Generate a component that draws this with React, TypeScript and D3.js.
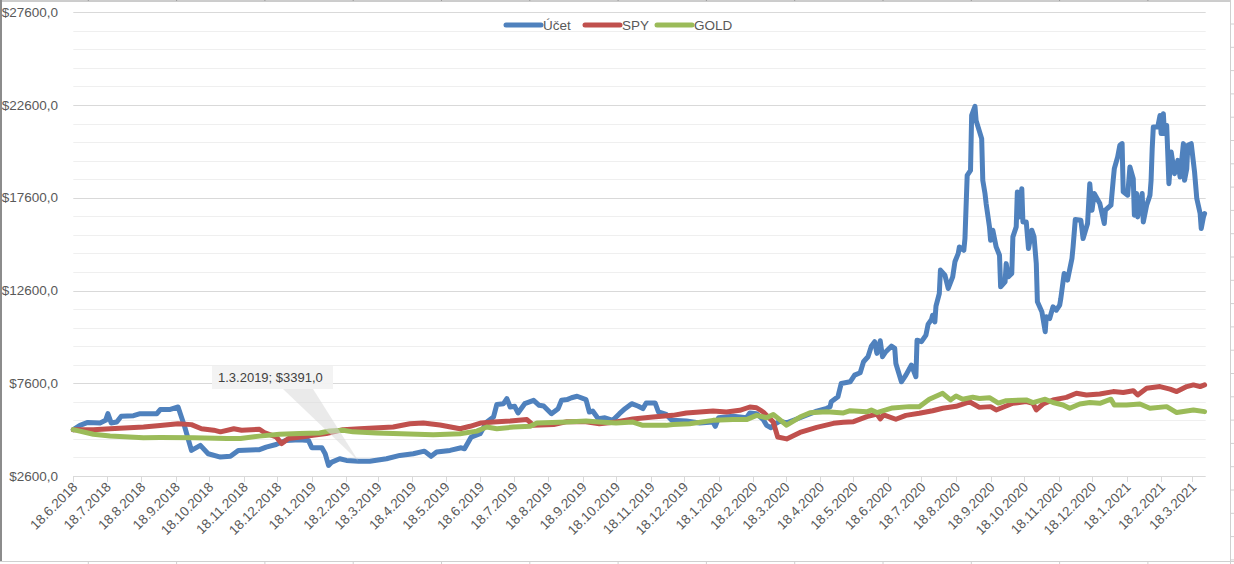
import * as d3 from 'd3';
import React, { useEffect, useRef } from 'react';

const startDate = '18.6.2018';
const endDate = '30.3.2021';

const seriesNames = ['Účet', 'SPY', 'GOLD'];
const seriesColors = ['#4f81bd', '#c0504d', '#9bbb59'];

// [days since 18.6.2018, value in $]
const ucet: [number, number][] = [
	[0, 5100], [6, 5330], [13, 5490], [24, 5460], [29, 5600], [31, 5960], [34, 5460], [39, 5510], [43, 5820],
	[54, 5850], [60, 5960], [75, 5960], [78, 6180], [87, 6190], [94, 6320], [100, 5240], [106, 3980], [114, 4250],
	[121, 3800], [132, 3620], [141, 3660], [148, 3980], [167, 4020], [173, 4160], [182, 4300], [187, 4430],
	[191, 4520], [203, 4560], [211, 4520], [214, 4120], [223, 4120], [226, 3800], [229, 3170], [232, 3350],
	[239, 3530], [245, 3440], [256, 3391], [266, 3400], [281, 3530], [293, 3710], [305, 3800], [315, 3940],
	[321, 3660], [326, 3890], [338, 3980], [348, 4120], [351, 4070], [357, 4700], [365, 4880], [371, 5510],
	[377, 5780], [380, 6460], [386, 6500], [389, 6770], [392, 6320], [396, 6360], [399, 6000], [405, 6500],
	[413, 6680], [418, 6410], [422, 6370], [429, 5960], [435, 6230], [438, 6680], [443, 6720], [447, 6820],
	[452, 6900], [460, 6720], [463, 6050], [466, 6100], [471, 5690], [477, 5740], [484, 5600], [490, 5960],
	[495, 6230], [501, 6500], [507, 6360], [511, 6230], [514, 6540], [522, 6540], [525, 6050], [532, 5920],
	[537, 5600], [550, 5560], [562, 5460], [574, 5510], [576, 5280], [579, 5740], [592, 5820], [604, 5740],
	[607, 6000], [613, 5960], [619, 5640], [622, 5330], [626, 5200], [629, 5380], [634, 5560], [640, 5460],
	[652, 5740], [667, 6100], [676, 6250], [679, 6335], [680, 6600], [686, 6870], [689, 7590], [697, 7680],
	[701, 8040], [706, 8170], [709, 8760], [713, 9030], [716, 9600], [719, 9840], [721, 9210], [724, 9890],
	[726, 9030], [729, 9300], [734, 9600], [737, 9480], [738, 8670], [743, 7680], [747, 8040], [752, 8580],
	[756, 7950], [757, 9920], [761, 9840], [765, 10200], [767, 10790], [770, 11040], [771, 11270], [773, 10910],
	[774, 11760], [777, 12440], [778, 13700], [782, 13430], [785, 12710], [789, 13340], [791, 14150], [794, 14600],
	[795, 14950], [799, 14770], [800, 15400], [802, 18810], [805, 19080], [806, 22040], [809, 22530], [810, 21770],
	[815, 20790], [816, 18540], [818, 17820], [819, 17290], [822, 16030], [823, 15310], [825, 15850], [828, 14950],
	[831, 14500], [832, 12800], [836, 13070], [837, 14050], [839, 13340], [842, 13520], [843, 15490], [846, 16030],
	[847, 17910], [849, 16570], [851, 18090], [852, 16300], [855, 16300], [857, 14860], [860, 15850], [862, 15490],
	[864, 14050], [865, 11990], [869, 11460], [872, 10380], [873, 11180], [876, 11090], [879, 11720], [882, 11540],
	[885, 11810], [886, 12170], [889, 13520], [892, 13160], [896, 14330], [897, 14950], [899, 16430], [904, 16390],
	[906, 15400], [910, 16210], [912, 18360], [914, 16930], [916, 17830], [921, 17290], [925, 16210], [926, 16930],
	[931, 17200], [933, 18540], [934, 19170], [937, 19800], [939, 20430], [941, 20520], [942, 17920], [946, 17740],
	[948, 19260], [951, 18630], [952, 16660], [954, 17830], [955, 16570], [959, 17830], [960, 16300], [963, 17200],
	[966, 17740], [967, 18540], [968, 20250], [969, 21420], [973, 21420], [975, 22040], [976, 21060], [978, 22130],
	[979, 21060], [981, 21500], [983, 18360], [985, 20070], [988, 18900], [991, 19620], [993, 18720], [996, 20520],
	[997, 18540], [999, 19170], [1000, 20430], [1003, 20520], [1006, 18990], [1008, 17560], [1011, 16750],
	[1012, 15940], [1014, 16570], [1015, 16750],
];

const spy: [number, number][] = [
	[0, 5100], [18, 5100], [33, 5150], [63, 5240], [78, 5320], [94, 5420], [106, 5370], [115, 5150], [126, 5070],
	[132, 4980], [144, 5150], [151, 5070], [167, 5120], [172, 4920], [182, 4710], [187, 4350], [193, 4620],
	[206, 4710], [215, 4800], [227, 4890], [242, 5100], [257, 5150], [287, 5240], [302, 5420], [314, 5460],
	[329, 5350], [347, 5150], [356, 5280], [366, 5460], [377, 5510], [392, 5560], [407, 5640], [413, 5330],
	[431, 5380], [443, 5530], [460, 5530], [472, 5420], [487, 5510], [502, 5670], [520, 5780], [538, 5870],
	[550, 6000], [574, 6100], [586, 6050], [598, 6140], [607, 6320], [613, 6280], [619, 6050], [628, 5510],
	[632, 4700], [640, 4600], [652, 4950], [667, 5220], [682, 5440], [691, 5500], [700, 5530], [712, 5800],
	[721, 5940], [724, 5680], [727, 5900], [738, 5660], [747, 5870], [759, 5980], [771, 6120], [780, 6250],
	[792, 6360], [804, 6600], [813, 6300], [823, 6340], [828, 6160], [843, 6520], [855, 6610], [861, 6520],
	[864, 6160], [870, 6480], [879, 6700], [891, 6840], [900, 7060], [909, 6970], [921, 7020], [933, 7150],
	[942, 7100], [951, 7200], [955, 6970], [963, 7330], [975, 7420], [984, 7280], [990, 7150], [999, 7420],
	[1005, 7510], [1011, 7420], [1015, 7510],
];

const gold: [number, number][] = [
	[0, 5100], [18, 4850], [33, 4760], [63, 4660], [78, 4670], [108, 4660], [138, 4620], [150, 4620], [167, 4750],
	[185, 4850], [203, 4890], [221, 4920], [230, 5030], [242, 5070], [251, 4980], [272, 4920], [287, 4890],
	[323, 4830], [347, 4880], [362, 5020], [371, 5240], [380, 5150], [395, 5240], [410, 5280], [416, 5460],
	[443, 5510], [460, 5560], [472, 5510], [487, 5460], [502, 5510], [511, 5330], [532, 5330], [538, 5380],
	[553, 5420], [574, 5600], [592, 5640], [604, 5640], [613, 5870], [622, 5740], [628, 5920], [640, 5340],
	[652, 5780], [661, 6010], [676, 6070], [691, 6000], [697, 6120], [712, 6060], [716, 6160], [721, 6020],
	[735, 6270], [750, 6340], [759, 6330], [768, 6740], [780, 7060], [787, 6700], [792, 6910], [798, 6740],
	[807, 6850], [813, 6780], [822, 6820], [830, 6530], [837, 6660], [855, 6700], [861, 6560], [872, 6740],
	[879, 6560], [888, 6430], [894, 6250], [903, 6480], [912, 6560], [921, 6520], [931, 6740], [934, 6430],
	[945, 6430], [957, 6480], [966, 6250], [981, 6340], [990, 6020], [1005, 6160], [1015, 6070],
];

const yTicks = [2600, 7600, 12600, 17600, 22600, 27600];
const xTickLabels = [
	'18.6.2018', '18.7.2018', '18.8.2018', '18.9.2018', '18.10.2018', '18.11.2018', '18.12.2018',
	'18.1.2019', '18.2.2019', '18.3.2019', '18.4.2019', '18.5.2019', '18.6.2019', '18.7.2019', '18.8.2019',
	'18.9.2019', '18.10.2019', '18.11.2019', '18.12.2019', '18.1.2020', '18.2.2020', '18.3.2020', '18.4.2020',
	'18.5.2020', '18.6.2020', '18.7.2020', '18.8.2020', '18.9.2020', '18.10.2020', '18.11.2020', '18.12.2020',
	'18.1.2021', '18.2.2021', '18.3.2021',
];

const noteDate = '1.3.2019';
const noteValue = 3391;

const width = 1234;
const height = 564;
const margin = { top: 12.3, right: 28.3, bottom: 88, left: 73.3 };
const font = '"Liberation Sans", Arial, sans-serif';
const textColor = '#595959';

const App = () => {
	const svgRef = useRef<SVGSVGElement>(null);

	useEffect(() => {
		const svg = d3.select(svgRef.current);
		svg.selectAll('*').remove();

		const parse = d3.utcParse('%d.%m.%Y');
		const start = parse(startDate) as Date;
		const toDate = (d: number) => d3.utcDay.offset(start, d);

		const x = d3
			.scaleUtc()
			.domain([start, parse(endDate) as Date])
			.range([margin.left, width - margin.right]);
		const y = d3
			.scaleLinear()
			.domain([2600, 27600])
			.range([height - margin.bottom, margin.top]);

		svg.append('rect').attr('width', width).attr('height', height).attr('fill', '#fff');

		// sheet frame around the chart
		const frame = svg.append('g');
		frame.append('line').attr('x1', 0.5).attr('x2', 1230).attr('y1', 1).attr('y2', 1).attr('stroke', '#9a9a9a');
		frame.append('line').attr('x1', 1).attr('x2', 1).attr('y1', 0).attr('y2', 561).attr('stroke', '#8c8c8c').attr('stroke-width', 2);
		frame.append('line').attr('x1', 1230.5).attr('x2', 1230.5).attr('y1', 0).attr('y2', 564).attr('stroke', '#d0d0d0');
		frame.append('line').attr('x1', 0).attr('x2', 1234).attr('y1', 561.5).attr('y2', 561.5).attr('stroke', '#d0d0d0');
		d3.range(88.3, 1230, 88.3).forEach(cx => {
			frame.append('line').attr('x1', cx).attr('x2', cx).attr('y1', 561.5).attr('y2', 564).attr('stroke', '#d0d0d0');
			frame.append('line').attr('x1', cx).attr('x2', cx).attr('y1', 0).attr('y2', 1).attr('stroke', '#9a9a9a');
		});
		d3.range(24, 561, 23.3).forEach(cy => {
			frame.append('line').attr('x1', 1230.5).attr('x2', 1234).attr('y1', cy).attr('y2', cy).attr('stroke', '#d0d0d0');
		});

		// gridlines
		const grid = svg.append('g');
		grid.selectAll('line.minor')
			.data(d3.range(3600, 27600, 1000).filter(v => !yTicks.includes(v)))
			.join('line')
			.attr('x1', margin.left)
			.attr('x2', width - margin.right)
			.attr('y1', d => Math.round(y(d)) + 0.5)
			.attr('y2', d => Math.round(y(d)) + 0.5)
			.attr('stroke', '#efefef');
		grid.selectAll('line.major')
			.data(yTicks)
			.join('line')
			.attr('x1', margin.left)
			.attr('x2', width - margin.right)
			.attr('y1', d => Math.round(y(d)) + 0.5)
			.attr('y2', d => Math.round(y(d)) + 0.5)
			.attr('stroke', '#d9d9d9');

		// y labels
		svg.append('g')
			.selectAll('text')
			.data(yTicks)
			.join('text')
			.attr('x', 58)
			.attr('y', d => y(d) + 4.5)
			.attr('text-anchor', 'end')
			.attr('font-family', font)
			.attr('font-size', 13.5)
			.attr('fill', textColor)
			.text(d => `$${d},0`);

		// x axis ticks and labels
		const xTicks = xTickLabels.map(s => parse(s) as Date);
		const xa = svg.append('g');
		xa.selectAll('line')
			.data(xTicks)
			.join('line')
			.attr('x1', d => Math.round(x(d)) + 0.5)
			.attr('x2', d => Math.round(x(d)) + 0.5)
			.attr('y1', y(2600))
			.attr('y2', y(2600) + 6)
			.attr('stroke', '#d9d9d9');
		xa.selectAll('text')
			.data(xTickLabels)
			.join('text')
			.attr('transform', (d, i) => `translate(${x(xTicks[i]) + 5},${y(2600) + 12}) rotate(-45)`)
			.attr('text-anchor', 'end')
			.attr('font-family', font)
			.attr('font-size', 13.5)
			.attr('fill', textColor)
			.text(d => d);

		// series lines
		const line = d3
			.line<[number, number]>()
			.x(d => x(toDate(d[0])))
			.y(d => y(d[1]));
		[ucet, spy, gold].forEach((data, i) => {
			svg.append('path')
				.datum(data)
				.attr('d', line)
				.attr('fill', 'none')
				.attr('stroke', seriesColors[i])
				.attr('stroke-width', 5)
				.attr('stroke-linejoin', 'round')
				.attr('stroke-linecap', 'round');
		});

		// data label callout
		const nx = x(parse(noteDate) as Date);
		const ny = y(noteValue);
		const note = svg.append('g');
		note.append('path')
			.attr('d', `M283,389 L313,389 L${nx},${ny} Z`)
			.attr('fill', '#d9d9d9')
			.attr('fill-opacity', 0.55);
		note.append('rect')
			.attr('x', 212)
			.attr('y', 366)
			.attr('width', 121)
			.attr('height', 23)
			.attr('fill', '#f2f2f2')
			.attr('fill-opacity', 0.95);
		note.append('text')
			.attr('x', 218)
			.attr('y', 382)
			.attr('font-family', font)
			.attr('font-size', 13)
			.attr('fill', '#404040')
			.text(`${noteDate}; $${noteValue},0`);

		// legend
		const legendX = [506, 585, 657];
		const legend = svg.append('g');
		seriesNames.forEach((name, i) => {
			legend.append('line')
				.attr('x1', legendX[i])
				.attr('x2', legendX[i] + 35)
				.attr('y1', 25)
				.attr('y2', 25)
				.attr('stroke', seriesColors[i])
				.attr('stroke-width', 5)
				.attr('stroke-linecap', 'round');
			legend.append('text')
				.attr('x', legendX[i] + 37)
				.attr('y', 29.5)
				.attr('font-family', font)
				.attr('font-size', 13.5)
				.attr('fill', textColor)
				.text(name);
		});
	}, []);

	return (
		<svg
			ref={svgRef}
			width={width}
			height={height}
			style={{ position: 'absolute', left: 0, top: 0, display: 'block' }}
		/>
	);
};

export default App;
